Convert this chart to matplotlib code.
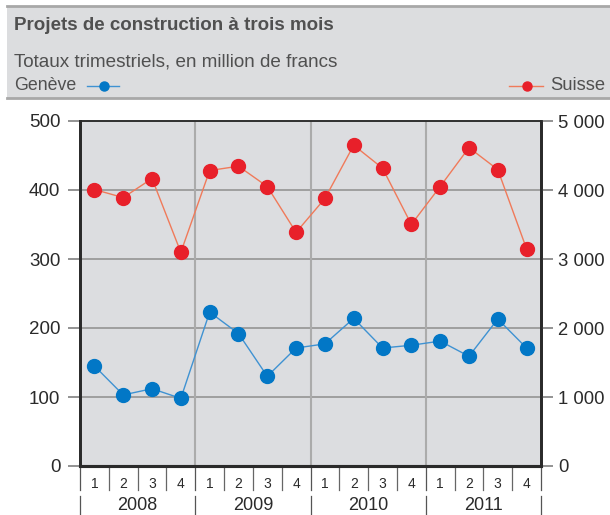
import matplotlib
matplotlib.use("Agg")
import matplotlib.pyplot as plt
from matplotlib.lines import Line2D
from matplotlib.patches import Rectangle

plt.rcParams['font.family'] = ['Liberation Sans', 'DejaVu Sans']

# data: quarterly totals, million francs
years = ['2008', '2009', '2010', '2011']
quarters = ['1', '2', '3', '4']
geneve = [145, 103, 112, 98, 223, 192, 130, 171, 177, 214, 171, 175, 181, 159, 213, 171]
suisse = [4007, 3890, 4166, 3097, 4282, 4345, 4050, 3386, 3877, 4649, 4316, 3501, 4050, 4614, 4296, 3146]
left_ticks = [0, 100, 200, 300, 400, 500]
right_ticks = [0, 1000, 2000, 3000, 4000, 5000]
right_labels = ['0', '1 000', '2 000', '3 000', '4 000', '5 000']

W, H = 610, 515
def fx(x):
    return x / W
def fy(y):
    return 1 - y / H

red = '#e8202a'
red_line = '#f07a5a'
blue = '#0277c6'
blue_line = '#3f92d2'
txt = '#505050'
dark = '#2a2a2a'

fig = plt.figure(figsize=(W / 100, H / 100), dpi=100)
renderer = fig.canvas.get_renderer()

def fit(t, width):
    # scale the font so the text covers the given pixel width
    w = t.get_window_extent(renderer).width
    t.set_fontsize(t.get_fontsize() * width / w)

# header band
fig.patches.append(Rectangle((fx(7), fy(98)), 1 - fx(7), fy(6) - fy(98), transform=fig.transFigure,
                             facecolor='#dcdddf', edgecolor='none', zorder=0))
fig.add_artist(Line2D([fx(7), 1], [fy(6), fy(6)], transform=fig.transFigure, color='#a8a8a8', lw=2))
fig.add_artist(Line2D([fx(7), 1], [fy(98), fy(98)], transform=fig.transFigure, color='#a8a8a8', lw=2))
t = fig.text(fx(14), fy(25), 'Projets de construction à trois mois', fontsize=11.4, fontweight='bold',
             color=txt, va='center', ha='left')
fit(t, 321)
t = fig.text(fx(14), fy(62), 'Totaux trimestriels, en million de francs', fontsize=12,
             color=txt, va='center', ha='left')
fit(t, 326)
t = fig.text(fx(14), fy(85.5), 'Genève', fontsize=12, color=txt, va='center', ha='left')
fit(t, 62)
fig.add_artist(Line2D([fx(87), fx(119)], [fy(85.5), fy(85.5)], transform=fig.transFigure, color=blue_line, lw=1))
fig.add_artist(Line2D([fx(104)], [fy(85.5)], transform=fig.transFigure, color=blue, marker='o', ms=6.5, mec=blue))
t = fig.text(fx(605.5), fy(85.5), 'Suisse', fontsize=12, color=txt, va='center', ha='right')
fit(t, 55)
fig.add_artist(Line2D([fx(509), fx(543)], [fy(85.5), fy(85.5)], transform=fig.transFigure, color=red_line, lw=1))
fig.add_artist(Line2D([fx(527)], [fy(85.5)], transform=fig.transFigure, color=red, marker='o', ms=6.5, mec=red))

# main axes
ax = fig.add_axes([fx(80), fy(466), fx(541) - fx(80), fy(121) - fy(466)])
ax.set_facecolor('#dcdde0')
x = list(range(len(geneve)))
ax.set_xlim(-0.5, len(geneve) - 0.5)
ax.set_ylim(0, 500)
ax.set_yticks(left_ticks)
ax.set_xticks([])
for v in left_ticks[1:-1]:
    ax.axhline(v, color='#9a9a9a', lw=1.3, zorder=1)
for i in range(1, len(years)):
    ax.axvline(i * 4 - 0.5, color='#ababab', lw=1.5, zorder=1)
ax.plot(x, geneve, color=blue_line, lw=1, marker='o', ms=10, mfc=blue, mec=blue, zorder=3)

ax2 = ax.twinx()
ax2.set_ylim(0, 5000)
ax2.set_yticks(right_ticks)
ax2.set_yticklabels(right_labels)
ax2.plot(x, suisse, color=red_line, lw=1, marker='o', ms=10, mfc=red, mec=red, zorder=3)

for a in (ax, ax2):
    for s in a.spines.values():
        s.set_color(dark)
        s.set_linewidth(1.1)
    a.spines['left'].set_linewidth(2)
    a.spines['right'].set_linewidth(2)
    a.spines['bottom'].set_linewidth(2.2)
ax.tick_params(axis='y', length=8.6, width=1.3, color='#8a8a8a', labelsize=13.5,
               labelcolor=dark, pad=5.5)
ax2.tick_params(axis='y', length=8.6, width=1.3, color='#8a8a8a', labelsize=13.3,
                labelcolor=dark, pad=3.5)

# category axis below the plot
tr = ax.get_xaxis_transform()
def ay(y):
    return (466 - y) / 345
for yi, yr in enumerate(years):
    for qi, q in enumerate(quarters):
        k = yi * 4 + qi
        ax.text(k, ay(484), q, transform=tr, ha='center', va='center', fontsize=10, color=dark)
        if qi > 0:
            ax.add_line(Line2D([k - 0.5, k - 0.5], [0, ay(490)], transform=tr, color='#666666',
                               lw=0.9, clip_on=False))
    ax.text(yi * 4 + 1.5, ay(510), yr, transform=tr, ha='center', va='baseline', fontsize=13, color=dark)
for i in range(len(years) + 1):
    for y0, y1 in ((466, 490), (496, 514)):
        ax.add_line(Line2D([i * 4 - 0.5, i * 4 - 0.5], [ay(y0), ay(y1)], transform=tr, color='#555555',
                           lw=0.9, clip_on=False))

fig.savefig('out.png', dpi=100)
